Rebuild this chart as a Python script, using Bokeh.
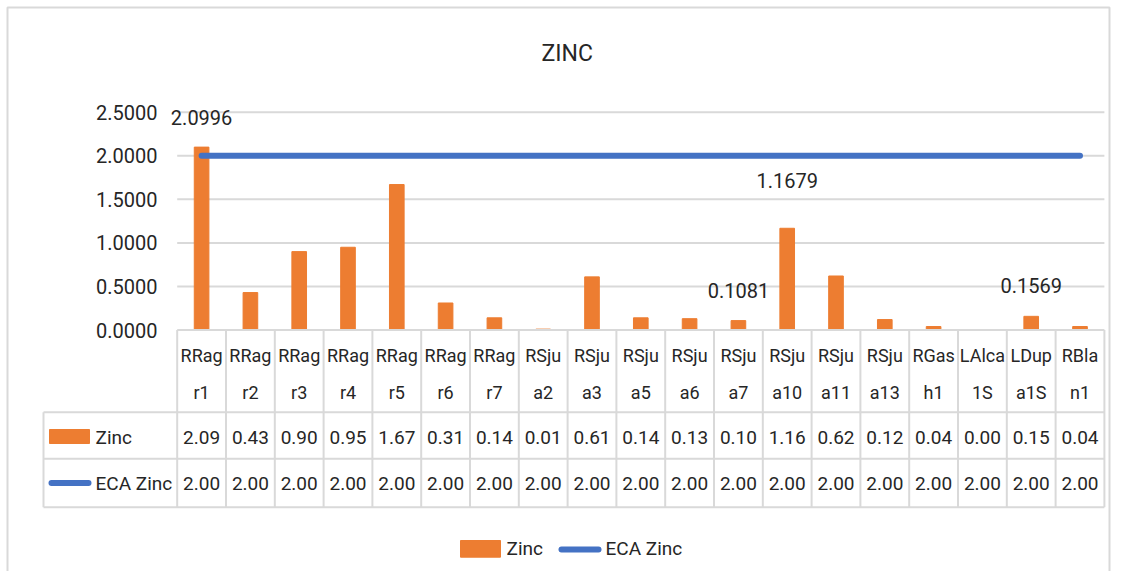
from bokeh.plotting import figure
from bokeh.models import Range1d
from bokeh.core.properties import value
from bokeh.embed import file_html
from bokeh.resources import INLINE

# ---------------- data ----------------
cat_top = ["RRag", "RRag", "RRag", "RRag", "RRag", "RRag", "RRag", "RSju", "RSju", "RSju",
           "RSju", "RSju", "RSju", "RSju", "RSju", "RGas", "LAlca", "LDup", "RBla"]
cat_bottom = ["r1", "r2", "r3", "r4", "r5", "r6", "r7", "a2", "a3", "a5",
              "a6", "a7", "a10", "a11", "a13", "h1", "1S", "a1S", "n1"]
zinc = [2.0996, 0.43, 0.90, 0.95, 1.67, 0.31, 0.14, 0.01, 0.61, 0.14,
        0.13, 0.1081, 1.1679, 0.62, 0.12, 0.04, 0.00, 0.1569, 0.04]
eca_zinc = [2.00, 2.00, 2.00, 2.00, 2.00, 2.00, 2.00, 2.00, 2.00, 2.00,
            2.00, 2.00, 2.00, 2.00, 2.00, 2.00, 2.00, 2.00, 2.00]
zinc_table = ["2.09", "0.43", "0.90", "0.95", "1.67", "0.31", "0.14", "0.01", "0.61", "0.14",
              "0.13", "0.10", "1.16", "0.62", "0.12", "0.04", "0.00", "0.15", "0.04"]
eca_table = ["2.00", "2.00", "2.00", "2.00", "2.00", "2.00", "2.00", "2.00", "2.00", "2.00",
             "2.00", "2.00", "2.00", "2.00", "2.00", "2.00", "2.00", "2.00", "2.00"]
y_ticks = [0.0, 0.5, 1.0, 1.5, 2.0, 2.5]
label_index = [0, 11, 12, 17]
label_text = ["2.0996", "0.1081", "1.1679", "0.1569"]
series_names = ["Zinc", "ECA  Zinc"]
title_text = "ZINC"

# ---------------- layout / style ----------------
W, H = 1111, 571
COL_LEFT, COL_W = 176.7, 48.8      # pixel position of first column, column width
Y0_PX, Y_SCALE = 329.5, 87.1        # pixel row of value 0, pixels per unit
label_dx = [0, 0, 0, 0]
label_dy = [-29.6, -30, -47.8, -30.8]

ORANGE = "#ED7D31"
BLUE = "#4472C4"
GRID = "#D9D9D9"
TXT = "#262626"
FONT = value("Roboto")


def fx(px):
    return -0.5 + (px - COL_LEFT) / COL_W


def fy(py):
    return (Y0_PX - py) / Y_SCALE


n = len(zinc)
xs = list(range(n))

p = figure(width=W, height=H, output_backend="svg", toolbar_location=None,
           x_axis_location=None, y_axis_location=None, min_border=0,
           x_range=Range1d(fx(0), fx(W)), y_range=Range1d(fy(H), fy(0)))
p.grid.visible = False
p.outline_line_color = None
p.background_fill_color = "white"
p.border_fill_color = "white"

# chart border
p.quad(left=[fx(7)], right=[fx(1109)], top=[fy(7)], bottom=[fy(640)],
       fill_color=None, line_color=GRID, line_width=2)

x_left, x_right = -0.5, n - 0.5

# gridlines
gt = [t for t in y_ticks if t > 0]
p.segment(x0=[x_left] * len(gt), y0=gt, x1=[x_right] * len(gt), y1=gt,
          line_color=GRID, line_width=2)

# y tick labels
p.text(x=[fx(157)] * len(y_ticks), y=y_ticks, text=["%.4f" % t for t in y_ticks],
       text_align="right", text_baseline="middle", text_font=FONT,
       text_font_size="20px", text_color=TXT)

# bars
p.vbar(x=xs, top=zinc, bottom=0, width=0.3, fill_color=ORANGE, line_color=ORANGE)

# ECA line
p.line(x=xs, y=eca_zinc, line_color=BLUE, line_width=6, line_cap="round")

# data labels
p.text(x=label_index, y=[zinc[i] for i in label_index],
       text=label_text, x_offset=label_dx, y_offset=label_dy,
       text_align="center", text_baseline="middle", text_font=FONT,
       text_font_size="20px", text_color=TXT)

# title
p.text(x=[fx(566.7)], y=[fy(53)], text=[title_text], text_align="center",
       text_baseline="middle", text_font=FONT, text_font_size="23px", text_color=TXT)

# ---------- data table ----------
row_lines = [411.7, 458.3, 506.7]
table_bottom = fy(row_lines[-1])
# top border (axis)
p.segment(x0=[x_left], y0=[0], x1=[x_right], y1=[0], line_color=GRID, line_width=2)
# horizontal row lines
p.segment(x0=[fx(43)] * 3, y0=[fy(r) for r in row_lines], x1=[x_right] * 3,
          y1=[fy(r) for r in row_lines], line_color=GRID, line_width=2)
# vertical column lines
vx = [x_left + k for k in range(n + 1)]
p.segment(x0=vx, y0=[0] * len(vx), x1=vx, y1=[table_bottom] * len(vx),
          line_color=GRID, line_width=2)
p.segment(x0=[fx(43)], y0=[fy(row_lines[0])], x1=[fx(43)], y1=[table_bottom],
          line_color=GRID, line_width=2)

# category labels
p.text(x=xs, y=[fy(355)] * n, text=cat_top, text_align="center", text_baseline="middle",
       text_font=FONT, text_font_size="18px", text_color=TXT)
p.text(x=xs, y=[fy(391.7)] * n, text=cat_bottom, text_align="center", text_baseline="middle",
       text_font=FONT, text_font_size="18px", text_color=TXT)
# values
p.text(x=xs, y=[fy(436.7)] * n, text=zinc_table, text_align="center", text_baseline="middle",
       text_font=FONT, text_font_size="19px", text_color=TXT)
p.text(x=xs, y=[fy(482.7)] * n, text=eca_table, text_align="center", text_baseline="middle",
       text_font=FONT, text_font_size="19px", text_color=TXT)

# legend keys inside table
p.quad(left=[fx(49)], right=[fx(89)], top=[fy(429)], bottom=[fy(443)],
       fill_color=ORANGE, line_color=ORANGE)
p.line(x=[fx(51), fx(88)], y=[fy(482.5), fy(482.5)], line_color=BLUE, line_width=6,
       line_cap="round")
p.text(x=[fx(95), fx(95)], y=[fy(436.7), fy(482.7)], text=series_names, text_align="left",
       text_baseline="middle", text_font=FONT, text_font_size="19px", text_color=TXT)

# bottom legend
p.quad(left=[fx(460)], right=[fx(500)], top=[fy(540)], bottom=[fy(556.7)],
       fill_color=ORANGE, line_color=ORANGE)
p.line(x=[fx(561), fx(598)], y=[fy(549), fy(549)], line_color=BLUE, line_width=6,
       line_cap="round")
p.text(x=[fx(506), fx(605)], y=[fy(548), fy(548)], text=series_names, text_align="left",
       text_baseline="middle", text_font=FONT, text_font_size="19px", text_color=TXT)

open("out.html", "w").write(file_html(p, INLINE))
